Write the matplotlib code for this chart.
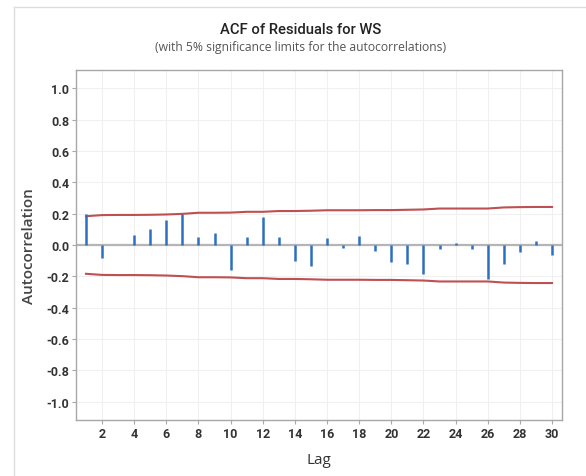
import numpy as np
import matplotlib
matplotlib.use("Agg")
import matplotlib.pyplot as plt
from matplotlib.lines import Line2D

# lags and autocorrelations of the residuals
lags = np.arange(1, 31)
acf = [0.200, -0.083, -0.003, 0.066, 0.100, 0.160, 0.198, 0.053, 0.077, -0.162,
       0.049, 0.179, 0.051, -0.102, -0.136, 0.043, -0.021, 0.060, -0.036, -0.111,
       -0.121, -0.187, -0.027, 0.015, -0.025, -0.217, -0.124, -0.047, 0.023, -0.062]
# 5% significance limit at each lag
limit = [0.184, 0.191, 0.192, 0.192, 0.193, 0.195, 0.199, 0.206, 0.206, 0.207,
         0.212, 0.212, 0.217, 0.217, 0.219, 0.222, 0.222, 0.222, 0.223, 0.223,
         0.225, 0.227, 0.233, 0.233, 0.233, 0.233, 0.240, 0.242, 0.243, 0.243]

xticks = np.arange(2, 31, 2)
yticks = np.round(np.arange(-1.0, 1.01, 0.2), 1)

narrow = ['Roboto', 'DejaVu Sans']
font = ['Open Sans', 'DejaVu Sans']
txt = '#333333'

fig = plt.figure(figsize=(5.86, 4.77), dpi=100, facecolor='white')
ax = fig.add_axes([76/586, 1 - 421/477, (562 - 76)/586, (421 - 71)/477])

ax.axhline(0, color='#b5b5b5', lw=1.6, zorder=1)
ax.vlines(lags, 0, acf, color='#2f6fbf', lw=1.8, zorder=3)
lim = np.array(limit)
ax.plot(lags, lim, color='#bd5052', lw=1.5, zorder=2)
ax.plot(lags, -lim, color='#bd5052', lw=1.5, zorder=2)

ax.set_xlim(0.38, 30.62)
ax.set_ylim(-1.118, 1.118)
ax.set_xticks(xticks)
ax.set_yticks(yticks)
ax.set_yticklabels([f'{v:.1f}'.replace('-0.0', '0.0') for v in yticks])
ax.grid(True, color='#f0f0f0', lw=0.8, zorder=0)
ax.set_axisbelow(True)

for s in ax.spines.values():
    s.set_color('#a8a8a8')
    s.set_linewidth(1.0)
ax.tick_params(axis='both', colors='#a8a8a8', length=3, width=0.8,
               labelcolor=txt, labelsize=9, pad=2)
for lbl in ax.get_xticklabels() + ax.get_yticklabels():
    lbl.set_family(narrow)
    lbl.set_fontweight('bold')

ax.set_xlabel('Lag', fontsize=11, color=txt, family=font, labelpad=9)
ax.set_ylabel('Autocorrelation', fontsize=11, color='#444444', family=font,
              fontweight='semibold', labelpad=7)

fig.text(301/586, 1 - 30/477, 'ACF of Residuals for WS', ha='center', va='center',
         fontsize=10.6, color='#222222', family=narrow, fontweight='medium')
fig.text(301/586, 1 - 48/477, '(with 5% significance limits for the autocorrelations)',
         ha='center', va='center', fontsize=8.7, color='#555555', family=font)

# light frame of the surrounding graph window
fig.add_artist(Line2D([14/586, 14/586], [0, 1 - 8/477], color='#dddddd', lw=1))
fig.add_artist(Line2D([14/586, 1], [1 - 8/477, 1 - 8/477], color='#dddddd', lw=1))

fig.savefig('out.png', dpi=100, facecolor='white')
